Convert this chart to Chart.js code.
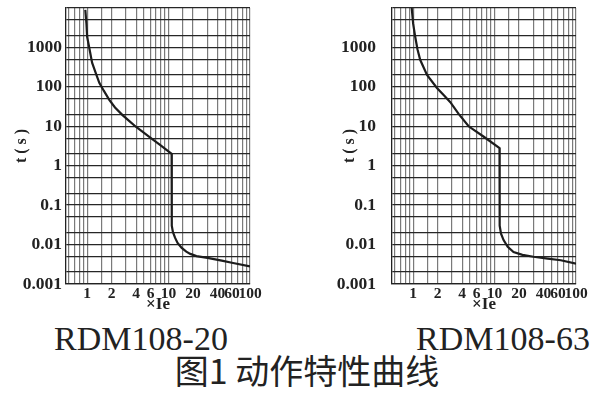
<!DOCTYPE html>
<html>
<head>
<meta charset="utf-8">
<script src="https://cdn.jsdelivr.net/npm/chart.js@4.4.0/dist/chart.umd.min.js"></script>
<style>
  html, body { margin: 0; padding: 0; background: #fff; }
  body { width: 591px; height: 396px; position: relative; overflow: hidden; }
  canvas { position: absolute; top: 0; }
  #chart20 { left: 0; }
  #chart63 { left: 300px; }
  .model {
    position: absolute; top: 322px; width: 220px; text-align: center;
    font-family: 'Liberation Serif', serif; font-size: 34px; line-height: 34px;
    color: #222; white-space: nowrap;
  }
  .caption {
    position: absolute; top: 353px; left: 157px; width: 300px; text-align: center;
    font-family: 'Noto Sans CJK SC', sans-serif; font-size: 34px; line-height: 34px;
    color: #222; white-space: nowrap;
  }
</style>
</head>
<body>
<canvas id="chart20" width="270" height="315"></canvas>
<canvas id="chart63" width="291" height="315"></canvas>
<div class="model" style="left:31px">RDM108-20</div>
<div class="model" style="left:393px">RDM108-63</div>
<div class="caption">图1 动作特性曲线</div>
<script>
// grid lines and tick labels
const xGridValues = [0.6, 0.7, 0.8, 0.9, 1, 1.5, 2, 3, 4, 5, 6, 7, 8, 9, 10, 15, 20, 30, 40, 50, 60, 70, 80, 90, 100];
const xLabelValues = [1, 2, 4, 6, 10, 20, 40, 60, 100];
const yGridValues = [0.001, 0.002, 0.005, 0.01, 0.02, 0.05, 0.1, 0.2, 0.5, 1, 2, 5, 10, 20, 50, 100, 200, 500, 1000, 2000, 5000, 10000];
const yLabelValues = [0.001, 0.01, 0.1, 1, 10, 100, 1000];

// RDM108-20 trip curve (multiple of Ie, seconds)
const ie20 = [0.95, 0.98, 1.0, 1.07, 1.15, 1.28, 1.41, 1.6, 1.87, 2.2, 2.7, 3.3, 4.0, 5.8, 8.0, 10.9, 10.95, 11.3, 12.0, 12.9, 14.5, 16.5, 18.5, 22, 30, 45, 62, 100];
const t20 = [9000, 4000, 1860, 900, 410, 220, 126, 80, 47, 30, 19.5, 13.5, 9.6, 5.4, 3.3, 2.0, 0.03, 0.021, 0.015, 0.011, 0.0082, 0.0066, 0.0058, 0.0051, 0.0046, 0.0039, 0.0034, 0.0028];

// RDM108-63 trip curve
const ie63 = [0.96, 1.0, 1.06, 1.13, 1.22, 1.48, 1.96, 2.4, 2.86, 3.6, 4.8, 7.3, 11.5, 11.55, 12.0, 12.9, 14.5, 17.1, 22, 30, 45, 65, 100];
const t63 = [10000, 4000, 1860, 900, 485, 200, 94, 60, 41, 21, 10, 5.5, 2.8, 0.03, 0.019, 0.013, 0.0088, 0.0065, 0.0055, 0.0049, 0.0044, 0.0040, 0.0033];

const tickFont = { family: "'Liberation Serif', serif", weight: 'bold' };

function makeChart(id, ie, t, opts) {
  const ctx = document.getElementById(id).getContext('2d');
  return new Chart(ctx, {
    type: 'scatter',
    data: {
      datasets: [{
        data: ie.map((x, i) => ({ x: x, y: t[i] })),
        showLine: true,
        borderColor: '#1c1c1c',
        borderWidth: 2.2,
        pointRadius: 0,
        tension: 0
      }]
    },
    options: {
      responsive: false,
      animation: false,
      layout: { padding: { left: 0, top: 8, right: opts.padRight, bottom: 0 } },
      plugins: { legend: { display: false }, tooltip: { enabled: false } },
      scales: {
        x: {
          type: 'logarithmic',
          min: 0.55,
          max: 100,
          afterBuildTicks: scale => { scale.ticks = xGridValues.map(v => ({ value: v })); },
          afterFit: scale => {
            scale.height = 31;
            scale.paddingLeft = 0; scale.paddingRight = 0;
          },
          ticks: {
            autoSkip: false, maxRotation: 0, padding: 1,
            color: '#222',
            font: Object.assign({ size: 15.5 }, tickFont),
            callback: v => xLabelValues.includes(v) ? String(v) : ''
          },
          grid: { color: '#7a7a7a', lineWidth: 1.2, drawTicks: false },
          border: { color: '#222', width: 1.3 },
          title: {
            display: true, text: '×Ie', color: '#222',
            font: Object.assign({ size: 17 }, tickFont),
            padding: { top: 0, bottom: 0 }
          }
        },
        y: {
          type: 'logarithmic',
          min: 0.001,
          max: 10000,
          afterBuildTicks: scale => { scale.ticks = yGridValues.map(v => ({ value: v })); },
          afterFit: scale => {
            scale.width = opts.yWidth;
            scale.paddingTop = 0; scale.paddingBottom = 0;
          },
          ticks: {
            autoSkip: false, padding: opts.yTickPad,
            color: '#222',
            font: Object.assign({ size: 17.5 }, tickFont),
            callback: v => yLabelValues.includes(v) ? String(v) : ''
          },
          grid: { color: '#262626', lineWidth: 1.3, drawTicks: false },
          border: { color: '#222', width: 1.3 },
          title: {
            display: true, text: 't ( s )', color: '#222',
            font: Object.assign({ size: 16 }, tickFont),
            padding: { top: opts.yTitlePad, bottom: 0 }
          }
        }
      }
    }
  });
}

makeChart('chart20', ie20, t20, { yWidth: 66, yTickPad: 4, yTitlePad: 12.5, padRight: 20 });
makeChart('chart63', ie63, t63, { yWidth: 92, yTickPad: 16, yTitlePad: 40.5, padRight: 15 });
</script>
</body>
</html>
